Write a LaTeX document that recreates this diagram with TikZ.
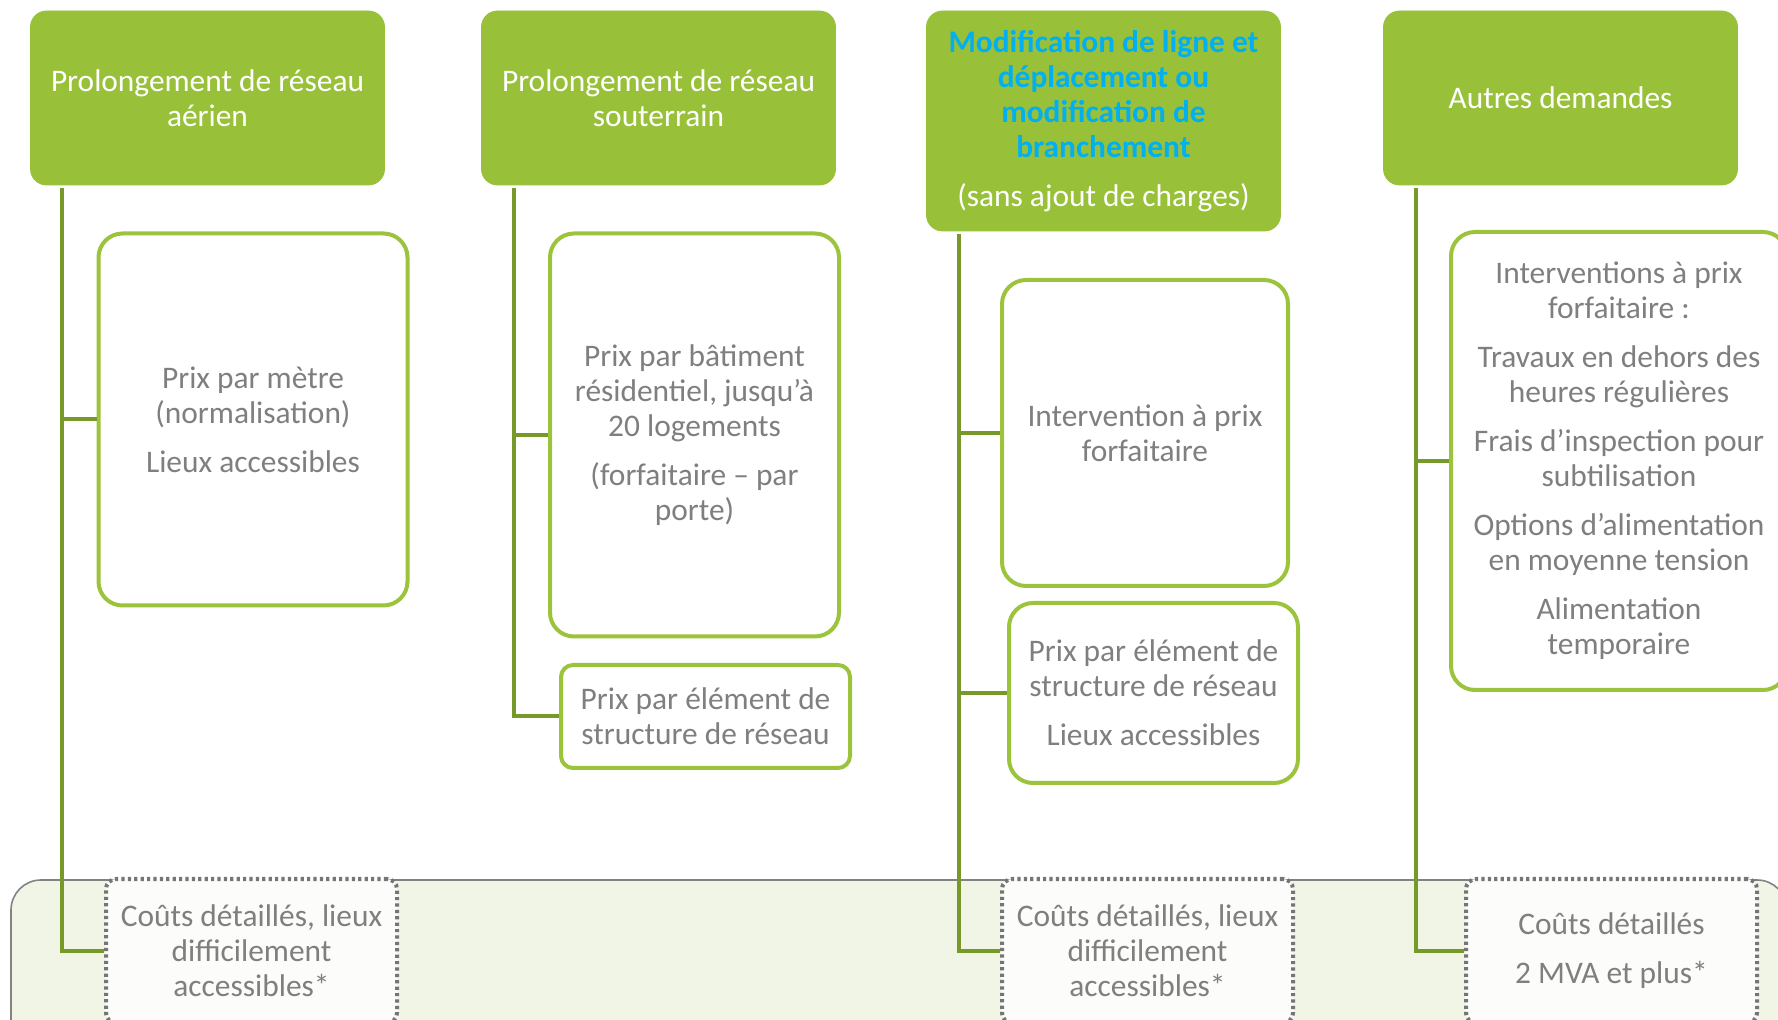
\documentclass[tikz,border=0pt]{standalone}
\usepackage{fontspec}
\setmainfont{Carlito}
\usepackage{tikz}
\usetikzlibrary{calc,positioning}

\definecolor{hgreen}{RGB}{152,193,57}
\definecolor{bgreen}{RGB}{155,196,60}
\definecolor{lgreen}{RGB}{118,153,42}
\definecolor{tgray}{RGB}{127,127,127}
\definecolor{cblue}{RGB}{0,176,240}
\definecolor{bandfill}{RGB}{241,245,230}
\definecolor{banddraw}{RGB}{130,130,130}
\definecolor{costfill}{RGB}{252,252,250}
\newcommand{\hblue}[1]{\textcolor{cblue}{\bfseries #1}}

\begin{document}
\begin{tikzpicture}[x=0.5pt,y=-0.5pt,
	font=\fontsize{15.7}{17.5}\selectfont,
	hdr/.style={fill=hgreen,draw=hgreen,rounded corners=8pt,text=white,align=center,inner sep=0pt,minimum width=177pt,minimum height=87pt},
	item/.style={draw=bgreen,line width=2pt,rounded corners=12pt,fill=white,text=tgray,align=center,inner sep=0pt},
	cost/.style={draw=banddraw!90!black,line width=2pt,dash pattern=on 1.6pt off 1.6pt,rounded corners=5pt,fill=costfill,text=tgray,align=center,inner sep=0pt,minimum width=145.5pt,minimum height=72pt},
	link/.style={draw=lgreen,line width=2pt}]
				\useasboundingbox (0,0) rectangle (1778,1020);
				\clip (0,0) rectangle (1778,1020);
				\draw[fill=bandfill,draw=banddraw,line width=0.8pt,rounded corners=15pt] (11,880) rectangle (1787,1080);
				
				\node[hdr] (hdrA) at (207.5,98) {Prolongement de réseau\\aérien};
				\node[hdr] (hdrB) at (658.5,98) {Prolongement de réseau\\souterrain};
				\node[hdr,minimum height=110pt] (hdrC) at (1103.5,121) {\hblue{Modification de ligne et}\\\hblue{déplacement ou}\\\hblue{modification de}\\\hblue{branchement}\\[7pt](sans ajout de charges)};
				\node[hdr] (hdrD) at (1560.5,98) {Autres demandes};
				
				\node[item,minimum width=154.5pt,minimum height=186pt] (itemA1) at (253,419.5) {Prix par mètre\\(normalisation)\\[7pt]Lieux accessibles};
				\node[item,minimum width=144.5pt,minimum height=201.5pt] (itemB1) at (694.5,435) {Prix par bâtiment\\résidentiel, jusqu’à\\20 logements\\[7pt](forfaitaire – par\\porte)};
				\node[item,rounded corners=6pt,minimum width=144.5pt,minimum height=51.5pt] (itemB2) at (705.5,716.5) {Prix par élément de\\structure de réseau};
				\node[item,minimum width=143pt,minimum height=153pt] (itemC1) at (1145,433) {Intervention à prix\\forfaitaire};
				\node[item,minimum width=144.5pt,minimum height=90pt] (itemC2) at (1153.5,693) {Prix par élément de\\structure de réseau\\[7pt]Lieux accessibles};
				\node[item,minimum width=168pt,minimum height=229pt] (itemD1) at (1619,461) {Interventions à prix\\forfaitaire :\\[7pt]Travaux en dehors des\\heures régulières\\[7pt]Frais d’inspection pour\\subtilisation\\[7pt]Options d’alimentation\\en moyenne tension\\[7pt]Alimentation\\temporaire};
				
				\node[cost] (costA) at (251.5,951) {Coûts détaillés, lieux\\difficilement\\accessibles*};
				\node[cost] (costC) at (1147.5,951) {Coûts détaillés, lieux\\difficilement\\accessibles*};
				\node[cost] (costD) at (1611.5,951) {Coûts détaillés\\[7pt]2 MVA et plus*};
				
				\draw[link] ([xshift=16pt,yshift=-1.5pt]hdrA.south west) |- (itemA1.west);
				\draw[link] ([xshift=16pt,yshift=-1.5pt]hdrA.south west) |- (costA.west);
				\draw[link] ([xshift=16.5pt,yshift=-1.5pt]hdrB.south west) |- (itemB1.west);
				\draw[link] ([xshift=16.5pt,yshift=-1.5pt]hdrB.south west) |- (itemB2.west);
				\draw[link] ([xshift=16.5pt,yshift=-1.5pt]hdrC.south west) |- (itemC1.west);
				\draw[link] ([xshift=16.5pt,yshift=-1.5pt]hdrC.south west) |- (itemC2.west);
				\draw[link] ([xshift=16.5pt,yshift=-1.5pt]hdrC.south west) |- (costC.west);
				\draw[link] ([xshift=16.5pt,yshift=-1.5pt]hdrD.south west) |- (itemD1.west);
				\draw[link] ([xshift=16.5pt,yshift=-1.5pt]hdrD.south west) |- (costD.west);
			\end{tikzpicture}
\end{document}
